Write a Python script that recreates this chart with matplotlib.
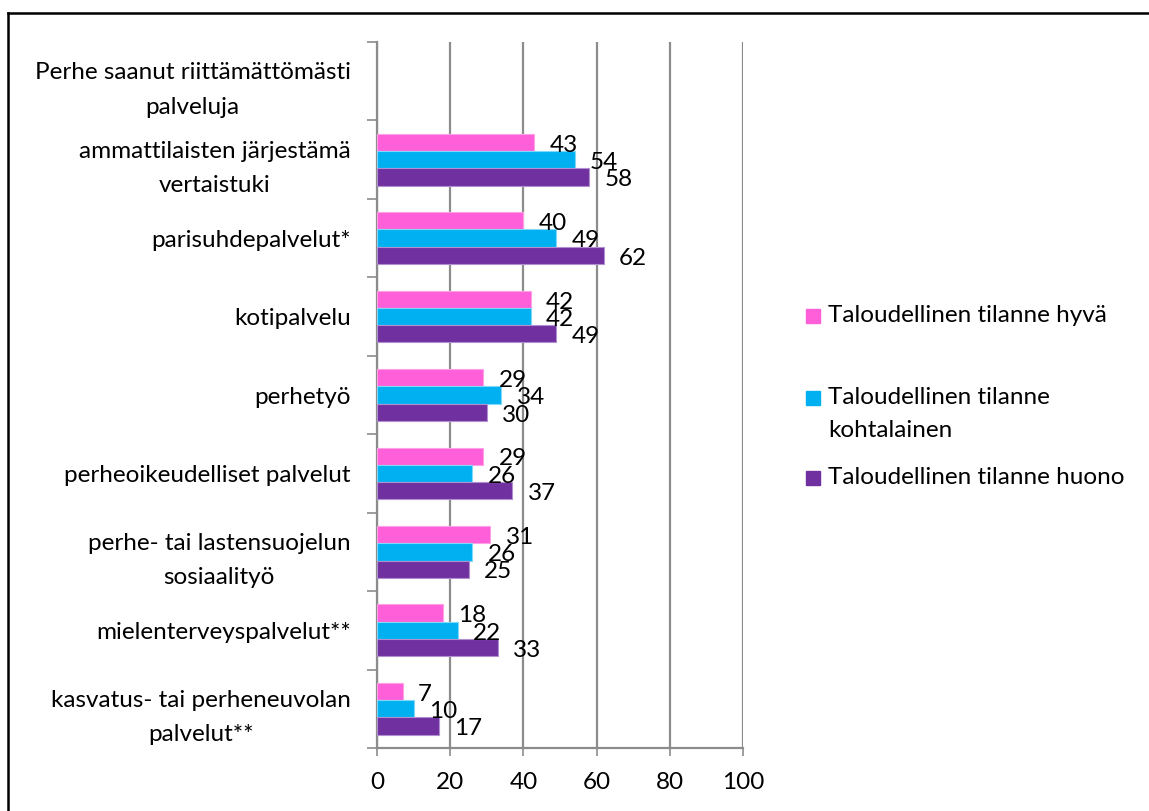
import matplotlib
matplotlib.use("Agg")
import matplotlib.pyplot as plt
import numpy as np
from matplotlib.lines import Line2D
from matplotlib.patches import Rectangle

plt.rcParams["font.family"] = ["Lato", "DejaVu Sans"]

# categories top -> bottom
categories = [
    "Perhe saanut riittämättömästi\npalveluja",
    "ammattilaisten järjestämä\nvertaistuki",
    "parisuhdepalvelut*",
    "kotipalvelu",
    "perhetyö",
    "perheoikeudelliset palvelut",
    "perhe- tai lastensuojelun\nsosiaalityö",
    "mielenterveyspalvelut**",
    "kasvatus- tai perheneuvolan\npalvelut**",
]
good = [None, 43, 40, 42, 29, 29, 31, 18, 7]
moderate = [None, 54, 49, 42, 34, 26, 26, 22, 10]
poor = [None, 58, 62, 49, 30, 37, 25, 33, 17]
series_names = [
    "Taloudellinen tilanne hyvä",
    "Taloudellinen tilanne\nkohtalainen",
    "Taloudellinen tilanne huono",
]
colors = ["#FF5FD8", "#00B0F0", "#7030A0"]
edges = ["#FF9FE8", "#7FD8F8", "#B090D0"]
xticks = [0, 20, 40, 60, 80, 100]

W, H = 1149, 811
fig = plt.figure(figsize=(W / 100, H / 100), dpi=100)
ax = fig.add_axes([377 / W, 1 - 748 / H, (743 - 377) / W, (748 - 42) / H])

n = len(categories)
y = np.arange(n)[::-1].astype(float)  # first category at top
bh = 0.22
offsets = [bh, 0.0, -bh]
fs = 17.5

for vals, off, c, ec in zip([good, moderate, poor], offsets, colors, edges):
    for yi, v in zip(y, vals):
        if v is None:
            continue
        ax.barh(yi + off, v, height=bh, color=c, edgecolor=ec,
                linewidth=0.8, zorder=3)
        ax.annotate(str(v), (v, yi + off), xytext=(11, -2),
                    textcoords="offset points", ha="left", va="center",
                    fontsize=fs, zorder=4)

ax.set_xlim(0, 100)
ax.set_ylim(-0.5, n - 0.5)
ax.set_xticks(xticks)
ax.set_xticklabels([str(t) for t in xticks], fontsize=fs)
ax.grid(axis="x", color="#8C8C8C", linewidth=1.6, zorder=0)
ax.tick_params(axis="x", length=6, width=1.2, color="#8C8C8C", pad=11)

# boundary ticks (major) and centred labels (minor)
ax.set_yticks(np.arange(-0.5, n, 1.0))
ax.set_yticklabels([])
ax.tick_params(axis="y", which="major", length=7, width=1.2, color="#8C8C8C")
ax.set_yticks(y, minor=True)
ax.set_yticklabels(categories, minor=True, fontsize=fs, ha="right",
                   multialignment="center", linespacing=1.8)
ax.tick_params(axis="y", which="minor", length=0, pad=19)

for s in ["top", "right"]:
    ax.spines[s].set_visible(False)
for s in ["left", "bottom"]:
    ax.spines[s].set_color("#8C8C8C")
    ax.spines[s].set_linewidth(1.6)

# legend drawn by hand so the markers sit on the first text line
leg_y = [316, 398, 478]
line_px = 32
for name, c, ly in zip(series_names, colors, leg_y):
    fig.patches.append(Rectangle((806 / W, 1 - (ly + 7) / H), 14 / W, 14 / H,
                                 transform=fig.transFigure, color=c))
    nlines = name.count("\n") + 1
    cy = ly + (nlines - 1) * line_px / 2
    fig.text(828 / W, 1 - cy / H, name, fontsize=fs, va="center",
             linespacing=1.75)

# outer frame (only top and left visible in crop)
fig.add_artist(Line2D([8 / W, 1], [1 - 13 / H, 1 - 13 / H], color="black",
                      linewidth=1.8, transform=fig.transFigure))
fig.add_artist(Line2D([8 / W, 8 / W], [0, 1 - 13 / H], color="black",
                      linewidth=1.8, transform=fig.transFigure))

fig.savefig("out.png", dpi=100)
